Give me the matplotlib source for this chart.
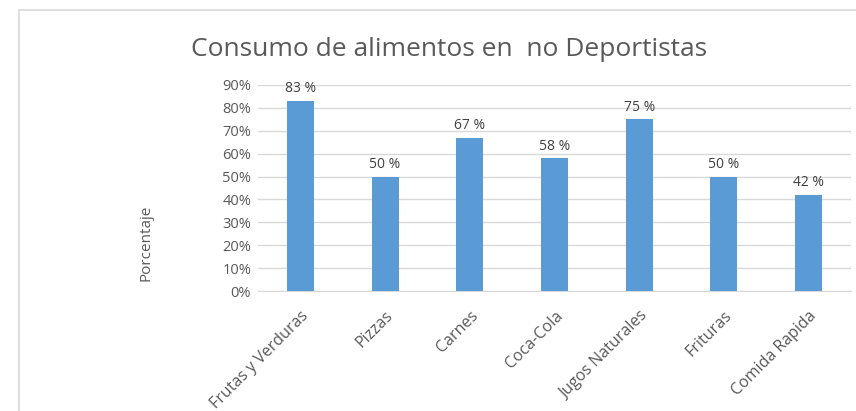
import matplotlib.pyplot as plt
from matplotlib.patches import Rectangle

categorias = ['Frutas y Verduras', 'Pizzas', 'Carnes', 'Coca-Cola',
              'Jugos Naturales', 'Frituras', 'Comida Rapida']
porcentajes = [83, 50, 67, 58, 75, 50, 42]
ticks_y = [0, 10, 20, 30, 40, 50, 60, 70, 80, 90]

plt.rcParams['font.family'] = ['Open Sans', 'DejaVu Sans']

fig = plt.figure(figsize=(8.56, 4.11), dpi=100)
fig.patch.set_facecolor('white')

# outer chart border
fig.patches.append(Rectangle((19/856, -0.1), 1.2, (401/411) + 0.1,
                             transform=fig.transFigure, fill=False,
                             edgecolor='#d9d9d9', linewidth=1.2))

ax = fig.add_axes([258/856, 120/411, 593/856, 206/411])
x = range(len(categorias))
ax.bar(x, porcentajes, width=0.32, color='#5b9bd5', zorder=3)
for i, v in zip(x, porcentajes):
    ax.text(i, v + 2, f'{v} %', ha='center', va='bottom',
            fontsize=10, color='#404040')

ax.set_xlim(-0.5, len(categorias) - 0.5)
ax.set_ylim(0, 90)
ax.set_yticks(ticks_y)
ax.set_yticklabels([f'{t}%' for t in ticks_y], fontsize=10.5, color='#595959')
ax.set_xticks(list(x))
ax.set_xticklabels(categorias, rotation=45, ha='right', rotation_mode='anchor',
                   fontsize=11.5, color='#595959')
ax.tick_params(axis='y', length=0, pad=5)
ax.tick_params(axis='x', length=0, pad=12)
ax.grid(axis='y', color='#d9d9d9', linewidth=1, zorder=0)
for s in ['top', 'right', 'left']:
    ax.spines[s].set_visible(False)
ax.spines['bottom'].set_color('#d9d9d9')
ax.set_ylabel('Porcentaje', fontsize=11, color='#595959')
ax.yaxis.set_label_coords(-0.177, 0.233)

fig.text(449/856, 1 - 50/411, 'Consumo de alimentos en  no Deportistas',
         ha='center', va='center', fontsize=19, color='#595959')

fig.savefig('out.png', dpi=100)
